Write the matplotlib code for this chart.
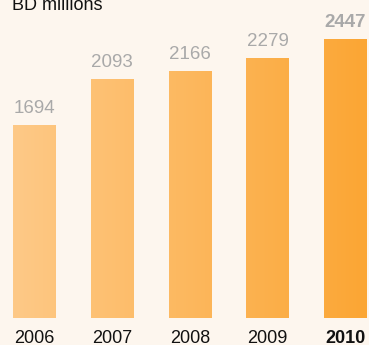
import numpy as np
import matplotlib
matplotlib.use('Agg')
import matplotlib.pyplot as plt
from matplotlib.colors import LinearSegmentedColormap

years = ['2006', '2007', '2008', '2009', '2010']
values = [1694, 2093, 2166, 2279, 2447]
unit_label = 'BD millions'

bg = '#fdf6ee'
cmap = LinearSegmentedColormap.from_list('orange', ['#fec987', '#fba634'])

plt.rcParams['font.family'] = ['Liberation Sans', 'DejaVu Sans']

fig = plt.figure(figsize=(3.69, 3.45), dpi=100, facecolor=bg)
ax = fig.add_axes([0, 27 / 345, 1, 318 / 345])
ax.set_facecolor(bg)

width = 0.553
x = np.arange(len(years))
xmin, xmax = -0.444, 4.302

bars = ax.bar(x, values, width=width, color='none', edgecolor='none')

# horizontal gradient running across all bars
lo, hi = x[0] - width / 2, x[-1] + width / 2
for bar in bars:
    x0 = bar.get_x()
    x1 = x0 + bar.get_width()
    grad = np.linspace((x0 - lo) / (hi - lo), (x1 - lo) / (hi - lo), 50).reshape(1, -1)
    im = ax.imshow(grad, cmap=cmap, vmin=0, vmax=1, aspect='auto',
                   extent=(x0, x1, 0, bar.get_height()), zorder=2)
    im.set_clip_path(bar)

ax.set_xlim(xmin, xmax)
ax.set_ylim(0, 2785)

for i, (xi, v) in enumerate(zip(x, values)):
    last = i == len(values) - 1
    ax.annotate(str(v), (xi, v), xytext=(0, 8.3), textcoords='offset points',
                ha='center', va='baseline', fontsize=13.5,
                color='#a9a9a9', fontweight='bold' if last else 'normal')
    ax.text(xi, -25 / 0.1142, years[i], ha='center', va='baseline', fontsize=13,
            color='#111111', fontweight='bold' if last else 'normal',
            clip_on=False)

fig.text(12 / 369, 1 - 10 / 345, unit_label, ha='left', va='baseline',
         fontsize=13, color='#111111')

for s in ax.spines.values():
    s.set_visible(False)
ax.set_xticks([])
ax.set_yticks([])

fig.savefig('out.png', dpi=100, facecolor=bg)
